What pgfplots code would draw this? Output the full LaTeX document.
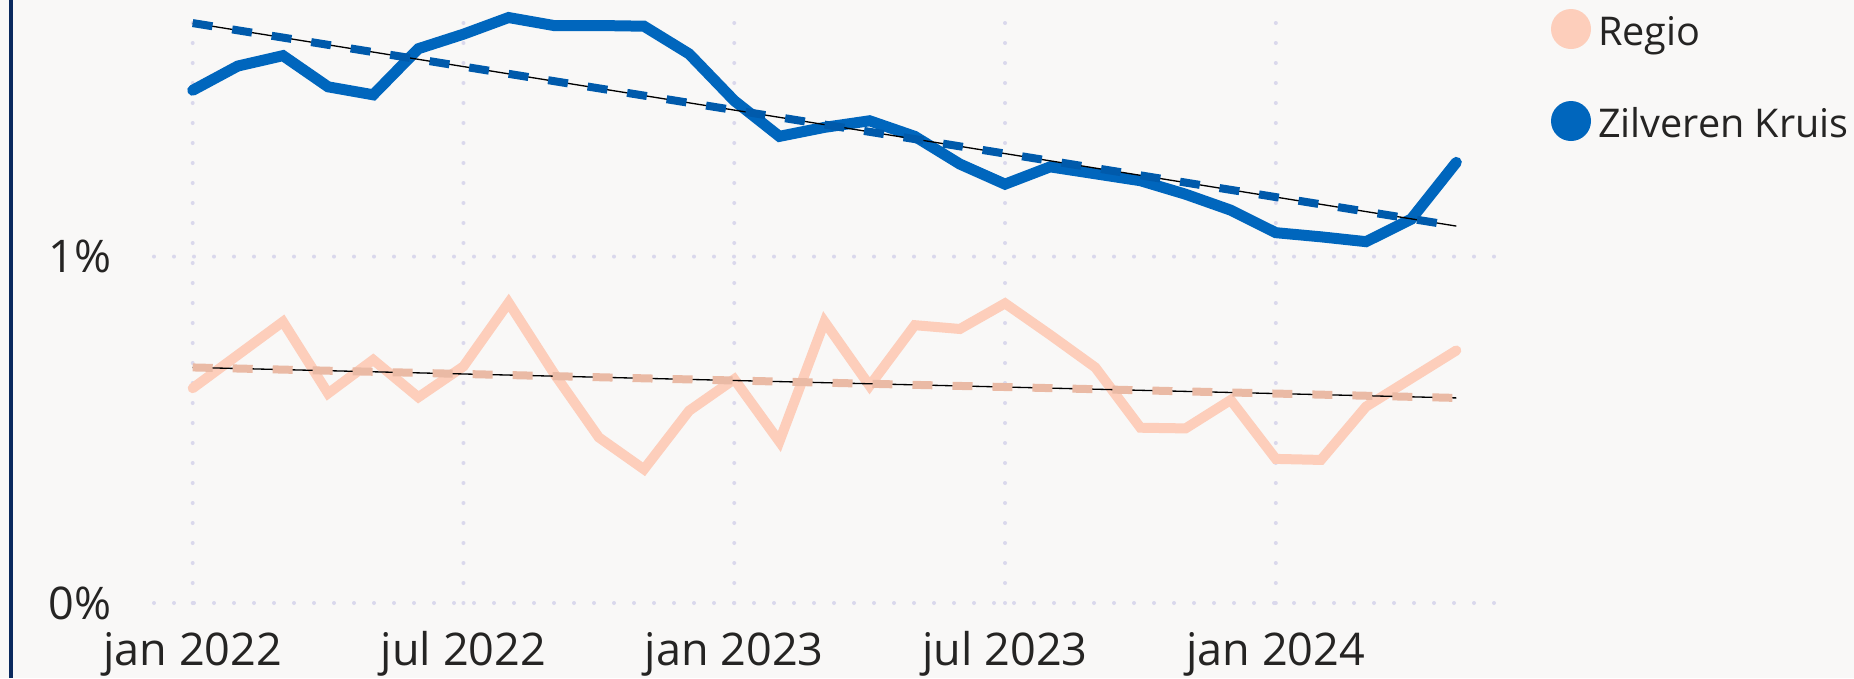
\documentclass[border=0pt]{standalone}
\usepackage{pgfplots}
\pgfplotsset{compat=1.18}
\usepackage{fontspec}
\setmainfont{Open Sans}

\definecolor{bgc}{HTML}{F9F8F7}
\definecolor{navy}{HTML}{0B2A5E}
\definecolor{zkblue}{HTML}{0066BD}
\definecolor{zktrend}{HTML}{005AAB}
\definecolor{regio}{HTML}{FDCEBB}
\definecolor{regiotrend}{HTML}{EABAA5}
\definecolor{gridc}{HTML}{DAD8EC}
\definecolor{textc}{HTML}{252423}

\begin{document}
\begin{tikzpicture}
\path[use as bounding box] (0,0) rectangle (463.5pt,169.5pt);
\fill[bgc] (0,0) rectangle (463.5pt,169.5pt);
\begin{axis}[
  at={(38.5pt,18.75pt)}, anchor=south west,
  width=335.5pt, height=145.5pt, scale only axis,
  xmin=-0.8575, xmax=28.879, ymin=0, ymax=1.68,
  clip=false,
  axis line style={draw=none},
  major tick length=0pt,
  xtick={0,6,12,18,24},
  xticklabels={jan 2022, jul 2022, jan 2023, jul 2023, jan 2024},
  ytick={0,1}, yticklabels={0\%,1\%},
  xmajorgrids, ymajorgrids,
  grid style={gridc, line width=1pt, dash pattern=on 0pt off 5pt, line cap=round},
  xticklabel style={anchor=base, yshift=-15.5pt, font=\fontsize{11.25}{13}\selectfont, text=textc, inner sep=0pt},
  yticklabel style={anchor=east, xshift=-10.5pt, font=\fontsize{11.25}{13}\selectfont, text=textc, inner sep=0pt},
  no markers,
  legend image code/.code={\fill[#1,draw=none] (0pt,0pt) circle (5pt);},
  legend cell align=left,
  legend style={at={(axis description cs:1.04098,1.0268)}, anchor=north west,
    draw=none, fill=none, inner sep=0pt, outer sep=0pt,
    row sep=11.2pt, column sep=1.75pt,
    font=\fontsize{9.9}{12}\selectfont, text=textc,
    nodes={inner sep=0pt, text height=10pt, text depth=1.8pt}},
]
\addplot[regio, line width=2.5pt, line cap=round] coordinates {
(0,0.620) (1,0.716) (2,0.812) (3,0.605) (4,0.702) (5,0.594) (6,0.683) (7,0.867)
(8,0.664) (9,0.478) (10,0.386) (11,0.555) (12,0.646) (13,0.466) (14,0.812) (15,0.627)
(16,0.802) (17,0.791) (18,0.865) (19,0.774) (20,0.680) (21,0.506) (22,0.504) (23,0.586)
(24,0.416) (25,0.413) (26,0.567) (27,0.648) (28,0.729)};
\addlegendentry{Regio}
\addplot[zkblue, line width=2.75pt, line cap=round] coordinates {
(0,1.480) (1,1.550) (2,1.580) (3,1.490) (4,1.467) (5,1.600) (6,1.642) (7,1.690)
(8,1.667) (9,1.667) (10,1.665) (11,1.585) (12,1.450) (13,1.347) (14,1.373) (15,1.392)
(16,1.347) (17,1.267) (18,1.209) (19,1.259) (20,1.239) (21,1.219) (22,1.180) (23,1.134)
(24,1.069) (25,1.057) (26,1.043) (27,1.108) (28,1.272)};
\addlegendentry{Zilveren Kruis}
\addplot[forget plot, black, line width=0.33pt] coordinates {(0,0.680) (28,0.592)};
\addplot[forget plot, regiotrend, line width=2pt, dash pattern=on 5pt off 5pt] coordinates {(0,0.680) (28,0.592)};
\addplot[forget plot, black, line width=0.33pt] coordinates {(0,1.674) (28,1.088)};
\addplot[forget plot, zktrend, line width=2pt, dash pattern=on 5pt off 5pt] coordinates {(0,1.674) (28,1.088)};
\end{axis}
\draw[navy, line width=0.85pt] (2.75pt,0) -- (2.75pt,169.5pt);
\end{tikzpicture}
\end{document}
